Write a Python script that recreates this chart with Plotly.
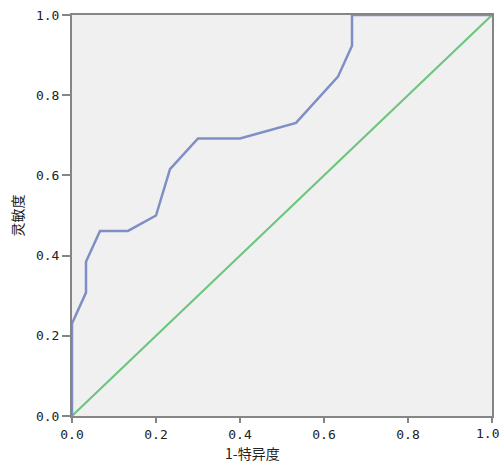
import plotly.graph_objects as go

# ROC curve data (1 - specificity, sensitivity)
fpr = [0.0, 0.0, 0.0333, 0.0333, 0.0667, 0.1333, 0.2, 0.2333, 0.3, 0.4, 0.5333, 0.6333, 0.6667, 0.6667, 1.0]
tpr = [0.0, 0.2308, 0.3077, 0.3846, 0.4615, 0.4615, 0.5, 0.6154, 0.6923, 0.6923, 0.7308, 0.8462, 0.9231, 1.0, 1.0]
ref_x = [0.0, 1.0]
ref_y = [0.0, 1.0]
tick_vals = [0.0, 0.2, 0.4, 0.6, 0.8, 1.0]
tick_text = ["0.0", "0.2", "0.4", "0.6", "0.8", "1.0"]
x_title = "1-特异度"
y_title = "灵敏度"

font_family = "Noto Sans CJK JP, DejaVu Sans"
tick_family = "DejaVu Sans Mono"

fig = go.Figure()
fig.add_trace(go.Scatter(x=ref_x, y=ref_y, mode="lines",
                         line=dict(color="#6cc57c", width=2), hoverinfo="skip"))
fig.add_trace(go.Scatter(x=fpr, y=tpr, mode="lines",
                         line=dict(color="#7f8fc6", width=2.5), hoverinfo="skip"))

axis_common = dict(
    range=[0, 1], tickvals=tick_vals, automargin=False,
    ticklabeloverflow="allow",
    showgrid=False, zeroline=False, showline=True, linecolor="#858585",
    linewidth=2, mirror=True, ticks="outside", tickwidth=2,
    tickcolor="#858585", tickfont=dict(family=tick_family, size=13, color="#222"),
)

# last x label is placed right-aligned so it fits inside the page edge
x_ticktext = tick_text[:-1] + [""]

fig.update_layout(
    width=501, height=463,
    margin=dict(l=72, r=9, t=15, b=47),
    paper_bgcolor="white", plot_bgcolor="#f0f0f0",
    showlegend=False,
    hovermode=False,
    font=dict(family=font_family, color="#222"),
    xaxis=dict(**axis_common, ticklen=5, ticktext=x_ticktext),
    yaxis=dict(**axis_common, ticklen=8, ticktext=tick_text),
    annotations=[
        dict(text=tick_text[-1], xref="x", yref="paper", x=tick_vals[-1], y=0,
             xshift=9, yshift=-17, showarrow=False,
             font=dict(family=tick_family, size=13, color="#222"),
             xanchor="right", yanchor="middle"),
        dict(text=x_title, xref="paper", yref="paper", x=0.43, y=0, yshift=-37,
             showarrow=False, font=dict(size=14), xanchor="center", yanchor="middle"),
        dict(text=y_title, xref="paper", yref="paper", x=0, y=0.5, xshift=-56,
             showarrow=False, font=dict(size=14), textangle=-90,
             xanchor="center", yanchor="middle"),
    ],
)

# remove the default page margin so the figure fills the window exactly
fig.write_html(
    "out.html",
    config={"displayModeBar": False, "staticPlot": True},
    post_script="document.body.style.margin='0';document.body.style.overflow='hidden';",
)
